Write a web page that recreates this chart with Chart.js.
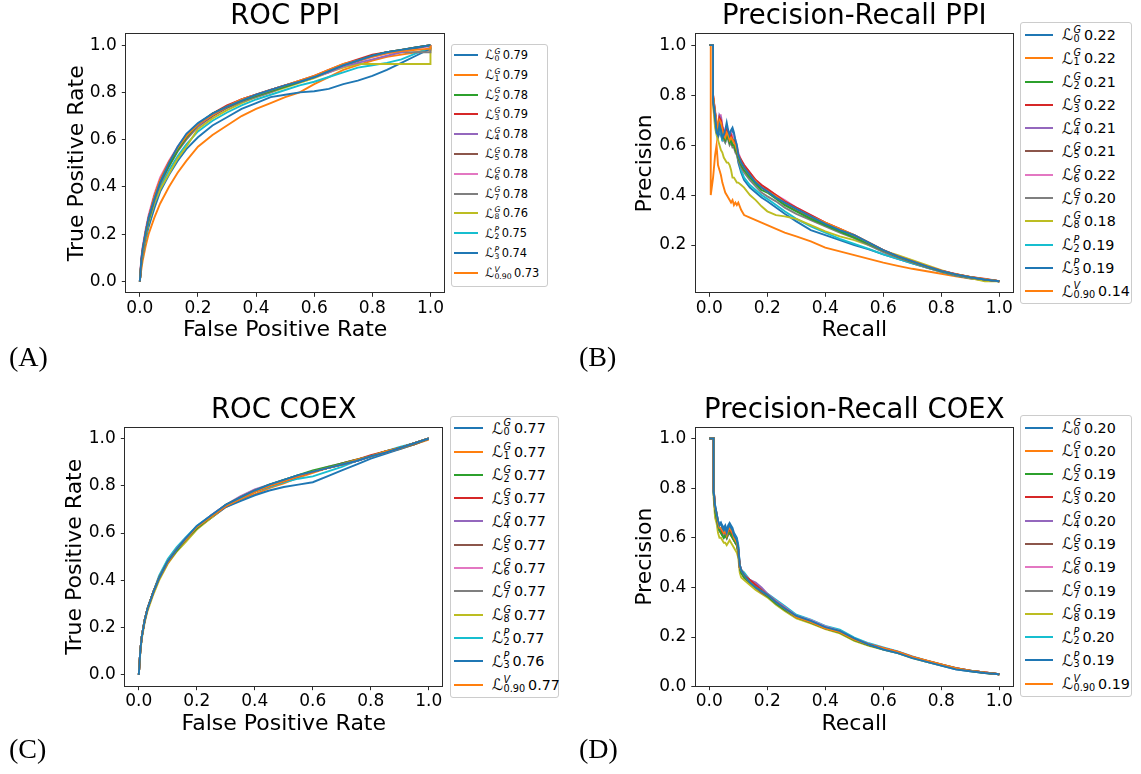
<!DOCTYPE html>
<html><head><meta charset="utf-8">
<script src="https://cdn.jsdelivr.net/npm/chart.js@4.4.1/dist/chart.umd.min.js"></script>
<style>
html,body{margin:0;padding:0;background:#fff;}
body{width:1141px;height:774px;position:relative;overflow:hidden;font-family:"DejaVu Sans",sans-serif;color:#000;}
.panel{position:absolute;}
.legend{position:absolute;border:1px solid #cccccc;border-radius:3px;background:#fff;box-sizing:border-box;}
.row{position:absolute;left:0;right:0;}
.sw{position:absolute;height:2px;}
.txt{position:absolute;top:0;white-space:nowrap;display:flex;align-items:center;height:100%;}
.cal{font-family:"DejaVu Sans",sans-serif;font-size:1.1em;}
.ss{display:inline-flex;flex-direction:column;font-size:0.68em;line-height:0.92;margin:0 0.3em 0 0.05em;}
.ss .sp{font-style:italic;}
.plabel{position:absolute;font-family:"Liberation Serif","Times New Roman",serif;font-size:28px;line-height:28px;white-space:nowrap;}
</style></head>
<body>
<script>
// ---------- legend labels ----------
const seriesSup = ['G','G','G','G','G','G','G','G','G','P','P','V'];
const seriesSub = ['0','1','2','3','4','5','6','7','8','2','3','0.90'];
const seriesColors = ['#1f77b4','#ff7f0e','#2ca02c','#d62728','#9467bd','#8c564b','#e377c2','#7f7f7f','#bcbd22','#17becf','#1f77b4','#ff7f0e'];
const aucRocPpi  = [0.79,0.79,0.78,0.79,0.78,0.78,0.78,0.78,0.76,0.75,0.74,0.73];
const apPrPpi    = [0.22,0.22,0.21,0.22,0.21,0.21,0.22,0.20,0.18,0.19,0.19,0.14];
const aucRocCoex = [0.77,0.77,0.77,0.77,0.77,0.77,0.77,0.77,0.77,0.77,0.76,0.77];
const apPrCoex   = [0.20,0.20,0.19,0.20,0.20,0.19,0.19,0.19,0.19,0.20,0.19,0.19];
const unitTicks = [0,0.2,0.4,0.6,0.8,1.0];
const prPpiYTicks = [0.2,0.4,0.6,0.8,1.0];

// ---------- (A) ROC PPI ----------
const rocPpiFpr = [0,0.005,0.01,0.02,0.03,0.05,0.07,0.1,0.13,0.16,0.2,0.25,0.3,0.35,0.4,0.45,0.5,0.55,0.6,0.65,0.7,0.75,0.8,0.85,0.9,0.95,1.0,1.0];
const rocPpiTpr = [
 [0,0.09,0.14,0.21,0.27,0.35,0.42,0.50,0.57,0.625,0.67,0.71,0.74,0.765,0.79,0.81,0.83,0.845,0.865,0.89,0.915,0.935,0.955,0.97,0.98,0.99,1.0,1.0],
 [0,0.08,0.13,0.21,0.27,0.36,0.43,0.505,0.565,0.615,0.665,0.705,0.74,0.77,0.79,0.81,0.83,0.85,0.87,0.895,0.92,0.935,0.95,0.965,0.975,0.98,0.985,1.0],
 [0,0.08,0.13,0.20,0.26,0.35,0.42,0.49,0.555,0.61,0.665,0.71,0.74,0.765,0.785,0.805,0.825,0.845,0.865,0.89,0.915,0.935,0.955,0.97,0.98,0.99,1.0,1.0],
 [0,0.09,0.14,0.21,0.27,0.36,0.43,0.505,0.565,0.615,0.665,0.71,0.745,0.77,0.79,0.81,0.83,0.85,0.87,0.895,0.92,0.94,0.96,0.97,0.98,0.99,1.0,1.0],
 [0,0.08,0.13,0.20,0.26,0.35,0.42,0.495,0.56,0.61,0.66,0.705,0.74,0.77,0.79,0.81,0.83,0.845,0.865,0.885,0.91,0.925,0.94,0.955,0.97,0.985,1.0,1.0],
 [0,0.08,0.13,0.20,0.26,0.35,0.42,0.49,0.555,0.605,0.66,0.70,0.735,0.765,0.785,0.805,0.825,0.845,0.865,0.89,0.915,0.935,0.955,0.97,0.98,0.99,1.0,1.0],
 [0,0.10,0.15,0.22,0.28,0.37,0.44,0.51,0.57,0.62,0.665,0.705,0.74,0.77,0.79,0.81,0.83,0.845,0.865,0.885,0.91,0.93,0.95,0.965,0.975,0.985,0.995,1.0],
 [0,0.08,0.13,0.20,0.26,0.34,0.41,0.485,0.55,0.60,0.655,0.70,0.735,0.76,0.78,0.80,0.825,0.845,0.865,0.89,0.915,0.935,0.955,0.97,0.97,0.97,0.97,1.0],
 [0,0.07,0.12,0.19,0.25,0.33,0.39,0.455,0.52,0.57,0.645,0.69,0.725,0.755,0.78,0.80,0.82,0.84,0.86,0.885,0.905,0.92,0.92,0.92,0.92,0.92,0.92,1.0],
 [0,0.08,0.12,0.19,0.25,0.33,0.40,0.47,0.53,0.58,0.635,0.68,0.715,0.745,0.77,0.79,0.81,0.83,0.845,0.865,0.885,0.905,0.915,0.925,0.94,0.965,0.99,0.99],
 [0,0.07,0.11,0.18,0.23,0.31,0.38,0.45,0.51,0.56,0.61,0.66,0.695,0.73,0.755,0.78,0.79,0.80,0.805,0.815,0.835,0.85,0.87,0.895,0.925,0.955,0.985,0.99],
 [0,0.05,0.09,0.15,0.20,0.27,0.33,0.40,0.46,0.51,0.57,0.62,0.66,0.70,0.73,0.755,0.78,0.80,0.835,0.865,0.895,0.915,0.935,0.95,0.96,0.97,0.98,1.0]
];

// ---------- (B) Precision-Recall PPI ----------
const prPpiRecall = [0,0.005,0.005,0.013,0.013,0.02,0.025,0.03,0.035,0.04,0.045,0.05,0.055,0.06,0.065,0.07,0.075,0.08,0.085,0.09,0.095,0.1,0.11,0.12,0.14,0.16,0.18,0.2,0.23,0.26,0.3,0.35,0.4,0.45,0.5,0.55,0.6,0.65,0.7,0.75,0.8,0.85,0.9,0.95,1.0];
const prPpiPrecision = [
 [1,1,1,1,0.78,0.72,0.65,0.64,0.68,0.66,0.63,0.64,0.66,0.69,0.66,0.64,0.66,0.67,0.65,0.62,0.60,0.56,0.53,0.51,0.48,0.45,0.43,0.415,0.39,0.37,0.345,0.315,0.285,0.26,0.24,0.21,0.18,0.155,0.135,0.115,0.097,0.083,0.071,0.062,0.055],
 [1,1,1,1,0.80,0.73,0.70,0.67,0.70,0.69,0.66,0.64,0.63,0.65,0.64,0.62,0.63,0.62,0.61,0.60,0.58,0.56,0.53,0.51,0.48,0.455,0.43,0.415,0.395,0.37,0.345,0.315,0.29,0.265,0.24,0.21,0.18,0.155,0.135,0.115,0.098,0.083,0.072,0.064,0.055],
 [1,1,1,1,0.79,0.72,0.67,0.65,0.69,0.68,0.65,0.63,0.62,0.64,0.63,0.61,0.62,0.60,0.60,0.58,0.57,0.55,0.52,0.50,0.47,0.445,0.42,0.41,0.385,0.36,0.335,0.305,0.28,0.255,0.23,0.205,0.178,0.153,0.133,0.113,0.096,0.082,0.071,0.062,0.055],
 [1,1,1,1,0.80,0.73,0.68,0.66,0.71,0.70,0.67,0.65,0.63,0.66,0.65,0.63,0.64,0.62,0.62,0.60,0.59,0.56,0.54,0.52,0.49,0.46,0.44,0.425,0.40,0.375,0.35,0.32,0.29,0.265,0.24,0.21,0.18,0.155,0.135,0.115,0.098,0.084,0.072,0.063,0.055],
 [1,1,1,1,0.79,0.73,0.69,0.66,0.72,0.71,0.67,0.65,0.63,0.65,0.64,0.62,0.63,0.61,0.61,0.59,0.58,0.56,0.53,0.51,0.48,0.455,0.43,0.415,0.39,0.37,0.345,0.315,0.285,0.26,0.235,0.205,0.178,0.153,0.133,0.113,0.097,0.083,0.071,0.062,0.055],
 [1,1,1,1,0.78,0.72,0.67,0.65,0.69,0.68,0.65,0.63,0.62,0.64,0.63,0.61,0.62,0.60,0.60,0.58,0.57,0.55,0.52,0.50,0.48,0.45,0.43,0.415,0.39,0.365,0.34,0.31,0.285,0.26,0.235,0.205,0.178,0.153,0.133,0.113,0.096,0.082,0.071,0.062,0.055],
 [1,1,1,1,0.80,0.74,0.68,0.66,0.72,0.72,0.68,0.66,0.64,0.67,0.66,0.64,0.65,0.63,0.64,0.62,0.60,0.57,0.54,0.52,0.49,0.46,0.44,0.42,0.40,0.38,0.35,0.32,0.29,0.265,0.235,0.205,0.18,0.155,0.135,0.115,0.098,0.085,0.072,0.065,0.055],
 [1,1,1,1,0.77,0.70,0.66,0.64,0.67,0.66,0.63,0.62,0.61,0.63,0.62,0.60,0.61,0.59,0.59,0.57,0.56,0.54,0.51,0.49,0.46,0.435,0.41,0.395,0.375,0.35,0.325,0.30,0.275,0.25,0.228,0.20,0.172,0.15,0.13,0.11,0.094,0.08,0.07,0.062,0.055],
 [1,1,1,1,0.76,0.67,0.64,0.62,0.60,0.58,0.57,0.55,0.54,0.53,0.53,0.52,0.50,0.47,0.47,0.46,0.45,0.45,0.44,0.43,0.40,0.38,0.355,0.335,0.32,0.315,0.305,0.28,0.255,0.235,0.22,0.20,0.178,0.16,0.14,0.12,0.10,0.082,0.068,0.055,0.055],
 [1,1,1,1,0.78,0.71,0.66,0.64,0.66,0.65,0.62,0.62,0.61,0.63,0.63,0.61,0.64,0.64,0.63,0.61,0.58,0.55,0.50,0.47,0.44,0.42,0.40,0.385,0.36,0.335,0.305,0.275,0.25,0.225,0.205,0.185,0.163,0.145,0.127,0.11,0.094,0.08,0.07,0.062,0.055],
 [1,1,1,1,0.79,0.72,0.65,0.63,0.65,0.64,0.62,0.63,0.64,0.67,0.65,0.63,0.65,0.66,0.64,0.60,0.57,0.53,0.49,0.46,0.43,0.41,0.39,0.375,0.35,0.325,0.295,0.26,0.24,0.22,0.20,0.183,0.163,0.145,0.127,0.11,0.093,0.078,0.067,0.06,0.055],
 [1,1,0.40,0.47,0.47,0.56,0.60,0.52,0.50,0.48,0.45,0.43,0.41,0.40,0.39,0.38,0.37,0.38,0.36,0.37,0.36,0.37,0.34,0.32,0.31,0.30,0.29,0.28,0.265,0.25,0.235,0.215,0.19,0.175,0.16,0.145,0.13,0.117,0.105,0.095,0.085,0.075,0.066,0.06,0.055]
];

// ---------- (C) ROC COEX ----------
const rocCoexFpr = [0,0.005,0.01,0.02,0.03,0.05,0.07,0.1,0.13,0.16,0.2,0.25,0.3,0.35,0.4,0.45,0.5,0.55,0.6,0.65,0.7,0.75,0.8,0.85,0.9,0.95,1.0];
const rocCoexTpr = [
 [0,0.10,0.16,0.23,0.28,0.35,0.41,0.48,0.53,0.575,0.63,0.675,0.72,0.75,0.78,0.805,0.825,0.845,0.86,0.875,0.89,0.905,0.925,0.94,0.96,0.98,1.0],
 [0,0.10,0.16,0.23,0.28,0.35,0.41,0.475,0.53,0.57,0.625,0.67,0.715,0.745,0.775,0.80,0.82,0.84,0.86,0.875,0.89,0.91,0.925,0.945,0.96,0.98,1.0],
 [0,0.10,0.16,0.23,0.28,0.35,0.41,0.48,0.525,0.57,0.62,0.67,0.72,0.75,0.78,0.805,0.825,0.845,0.865,0.88,0.895,0.91,0.925,0.945,0.96,0.98,1.0],
 [0,0.10,0.16,0.23,0.28,0.35,0.41,0.48,0.53,0.57,0.625,0.67,0.715,0.75,0.78,0.80,0.82,0.84,0.86,0.875,0.895,0.91,0.93,0.945,0.96,0.98,1.0],
 [0,0.10,0.16,0.23,0.28,0.35,0.41,0.48,0.53,0.575,0.625,0.675,0.72,0.755,0.785,0.805,0.825,0.845,0.86,0.875,0.89,0.905,0.925,0.945,0.96,0.98,1.0],
 [0,0.10,0.16,0.23,0.28,0.35,0.41,0.475,0.525,0.57,0.62,0.67,0.715,0.745,0.775,0.80,0.82,0.84,0.86,0.875,0.89,0.905,0.925,0.94,0.96,0.975,1.0],
 [0,0.10,0.16,0.23,0.28,0.35,0.41,0.48,0.53,0.575,0.625,0.675,0.72,0.75,0.78,0.80,0.82,0.84,0.86,0.88,0.895,0.91,0.925,0.94,0.96,0.98,1.0],
 [0,0.10,0.16,0.23,0.28,0.35,0.41,0.48,0.53,0.57,0.62,0.67,0.715,0.745,0.775,0.80,0.82,0.84,0.86,0.875,0.89,0.905,0.925,0.945,0.96,0.98,1.0],
 [0,0.09,0.15,0.22,0.27,0.34,0.40,0.47,0.52,0.56,0.615,0.665,0.715,0.745,0.775,0.80,0.82,0.84,0.86,0.875,0.89,0.905,0.925,0.94,0.96,0.975,1.0],
 [0,0.10,0.16,0.23,0.28,0.35,0.42,0.49,0.54,0.58,0.63,0.675,0.715,0.745,0.775,0.795,0.815,0.83,0.84,0.86,0.88,0.905,0.925,0.945,0.965,0.98,1.0],
 [0,0.10,0.16,0.23,0.28,0.35,0.41,0.48,0.53,0.57,0.62,0.665,0.71,0.735,0.76,0.78,0.795,0.805,0.815,0.84,0.865,0.89,0.915,0.935,0.955,0.975,1.0],
 [0,0.10,0.16,0.23,0.28,0.35,0.41,0.475,0.525,0.57,0.625,0.665,0.71,0.74,0.765,0.79,0.81,0.835,0.855,0.875,0.89,0.91,0.925,0.94,0.955,0.975,0.995]
];

// ---------- (D) Precision-Recall COEX ----------
const prCoexRecall = [0,0.015,0.015,0.02,0.025,0.03,0.035,0.04,0.045,0.05,0.055,0.06,0.065,0.07,0.075,0.08,0.085,0.09,0.095,0.1,0.105,0.11,0.12,0.14,0.16,0.18,0.2,0.23,0.26,0.3,0.35,0.4,0.45,0.5,0.55,0.6,0.65,0.7,0.75,0.8,0.85,0.9,0.95,1.0];
const prCoexPrecision = [
 [1,1,0.79,0.73,0.70,0.67,0.65,0.66,0.64,0.63,0.64,0.62,0.64,0.65,0.64,0.63,0.61,0.60,0.59,0.56,0.49,0.47,0.45,0.42,0.40,0.385,0.37,0.34,0.315,0.285,0.265,0.24,0.225,0.195,0.17,0.15,0.135,0.115,0.10,0.085,0.07,0.062,0.055,0.05],
 [1,1,0.80,0.72,0.70,0.66,0.64,0.64,0.63,0.62,0.63,0.61,0.63,0.64,0.63,0.62,0.60,0.59,0.58,0.55,0.48,0.47,0.45,0.42,0.40,0.385,0.37,0.34,0.315,0.28,0.26,0.235,0.22,0.19,0.17,0.155,0.14,0.12,0.105,0.09,0.075,0.065,0.057,0.05],
 [1,1,0.78,0.71,0.68,0.65,0.63,0.62,0.61,0.60,0.61,0.60,0.62,0.62,0.61,0.60,0.59,0.58,0.57,0.54,0.48,0.46,0.44,0.42,0.40,0.385,0.365,0.335,0.31,0.28,0.258,0.235,0.218,0.188,0.168,0.152,0.138,0.118,0.103,0.088,0.074,0.064,0.056,0.05],
 [1,1,0.80,0.72,0.69,0.66,0.64,0.64,0.62,0.62,0.62,0.61,0.63,0.63,0.62,0.61,0.60,0.59,0.58,0.55,0.49,0.47,0.45,0.43,0.41,0.39,0.37,0.34,0.315,0.283,0.262,0.238,0.222,0.192,0.17,0.155,0.14,0.12,0.104,0.089,0.075,0.065,0.057,0.05],
 [1,1,0.79,0.72,0.69,0.65,0.63,0.63,0.62,0.61,0.62,0.60,0.62,0.63,0.62,0.61,0.60,0.58,0.58,0.55,0.48,0.47,0.45,0.43,0.42,0.40,0.375,0.345,0.32,0.285,0.265,0.24,0.223,0.193,0.171,0.155,0.14,0.12,0.104,0.089,0.075,0.065,0.057,0.05],
 [1,1,0.78,0.71,0.68,0.65,0.63,0.62,0.61,0.61,0.61,0.60,0.62,0.62,0.61,0.60,0.59,0.58,0.57,0.54,0.48,0.46,0.44,0.42,0.40,0.38,0.365,0.335,0.31,0.28,0.26,0.235,0.22,0.19,0.168,0.153,0.138,0.118,0.103,0.088,0.074,0.064,0.056,0.05],
 [1,1,0.79,0.72,0.69,0.66,0.64,0.63,0.62,0.62,0.62,0.61,0.63,0.63,0.62,0.61,0.60,0.59,0.58,0.55,0.49,0.47,0.45,0.43,0.41,0.39,0.37,0.345,0.32,0.285,0.268,0.243,0.225,0.193,0.171,0.155,0.14,0.12,0.104,0.089,0.075,0.065,0.057,0.05],
 [1,1,0.78,0.71,0.68,0.65,0.63,0.62,0.61,0.60,0.61,0.60,0.61,0.62,0.61,0.60,0.59,0.58,0.57,0.54,0.48,0.46,0.44,0.42,0.41,0.39,0.37,0.34,0.315,0.283,0.262,0.238,0.222,0.19,0.168,0.153,0.138,0.118,0.103,0.088,0.074,0.064,0.056,0.05],
 [1,1,0.76,0.68,0.66,0.62,0.60,0.60,0.59,0.58,0.58,0.57,0.58,0.59,0.58,0.57,0.56,0.55,0.54,0.52,0.46,0.44,0.43,0.41,0.39,0.375,0.36,0.33,0.305,0.275,0.255,0.232,0.215,0.185,0.165,0.15,0.135,0.115,0.10,0.086,0.072,0.063,0.055,0.05],
 [1,1,0.79,0.72,0.69,0.66,0.64,0.64,0.63,0.62,0.63,0.61,0.63,0.64,0.63,0.62,0.61,0.60,0.59,0.56,0.49,0.47,0.46,0.43,0.41,0.395,0.375,0.35,0.325,0.29,0.27,0.245,0.23,0.198,0.175,0.158,0.142,0.122,0.105,0.09,0.076,0.065,0.057,0.05],
 [1,1,0.79,0.73,0.70,0.67,0.65,0.66,0.65,0.64,0.65,0.63,0.65,0.66,0.65,0.64,0.62,0.61,0.60,0.57,0.49,0.47,0.45,0.42,0.40,0.385,0.37,0.34,0.315,0.285,0.265,0.24,0.225,0.195,0.168,0.15,0.135,0.117,0.10,0.085,0.07,0.062,0.055,0.05],
 [1,1,0.80,0.72,0.70,0.66,0.64,0.64,0.63,0.62,0.63,0.61,0.63,0.64,0.63,0.62,0.60,0.59,0.58,0.55,0.48,0.47,0.45,0.42,0.40,0.385,0.37,0.34,0.315,0.28,0.26,0.235,0.22,0.19,0.17,0.155,0.14,0.12,0.105,0.09,0.075,0.065,0.057,0.05]
];

// ---------- drawing ----------
const FONT = 'DejaVu Sans';
Chart.defaults.font.family = FONT;
Chart.defaults.color = '#000';
const FRAME = '#2b2b2b';
const TICK_FONT = 17, LABEL_FONT = 22, TITLE_FONT = 27.5;

const framePlugin = {
  id: 'frame',
  afterDatasetsDraw(chart) {
    const a = chart.chartArea, ctx = chart.ctx;
    ctx.save();
    ctx.strokeStyle = FRAME; ctx.lineWidth = 1;
    ctx.strokeRect(Math.round(a.left) + 0.5, Math.round(a.top) + 0.5, Math.round(a.right) - Math.round(a.left) - 1, Math.round(a.bottom) - Math.round(a.top) - 1);
    ctx.restore();
  }
};

function makePanel(p) {
  const holder = document.createElement('div');
  holder.className = 'panel';
  holder.style.left = p.left + 'px'; holder.style.top = p.top + 'px';
  const cv = document.createElement('canvas');
  cv.width = p.w; cv.height = p.h;
  cv.style.width = p.w + 'px'; cv.style.height = p.h + 'px';
  holder.appendChild(cv); document.body.appendChild(holder);
  const datasets = p.ys.map((ys, i) => ({
    data: p.xs.map((x, j) => ({x: x, y: ys[j]})),
    borderColor: seriesColors[i], borderWidth: 1.9, pointRadius: 0, fill: false, tension: 0
  }));
  const titlePadTop = p.titleMid - TITLE_FONT / 2;
  new Chart(cv, {
    type: 'line',
    data: {datasets},
    options: {
      responsive: false, animation: false, devicePixelRatio: 1,
      layout: {padding: {left: 0, right: p.w - p.chartRight, top: 0, bottom: 0}},
      plugins: {
        legend: {display: false}, tooltip: {enabled: false},
        title: {display: true, text: p.title, fullSize: false, color: '#000',
          font: {family: FONT, size: TITLE_FONT, weight: 'normal', lineHeight: 1},
          padding: {top: titlePadTop, bottom: p.chartTop - TITLE_FONT - titlePadTop}}
      },
      scales: {
        x: {type: 'linear', min: -0.05, max: 1.05,
          afterBuildTicks: s => { s.ticks = unitTicks.map(v => ({value: v})); },
          afterFit: s => { s.height = p.h - p.chartBottom; },
          grid: {drawOnChartArea: false, drawTicks: true, tickLength: 3.5, tickColor: FRAME, lineWidth: 1},
          border: {display: false},
          ticks: {padding: 3, autoSkip: false, maxRotation: 0, color: '#000',
            font: {family: FONT, size: TICK_FONT, lineHeight: 1}, callback: v => Number(v).toFixed(1)},
          title: {display: true, text: p.xTitle, color: '#000',
            font: {family: FONT, size: LABEL_FONT, lineHeight: 1},
            padding: {top: 0, bottom: p.h - p.xTitleMid - LABEL_FONT / 2}}
        },
        y: {type: 'linear', min: p.yMin, max: p.yMax,
          afterBuildTicks: s => { s.ticks = p.yTicks.map(v => ({value: v})); },
          afterFit: s => { s.width = p.chartLeft; },
          grid: {drawOnChartArea: false, drawTicks: true, tickLength: 3.5, tickColor: FRAME, lineWidth: 1},
          border: {display: false},
          ticks: {padding: 5, autoSkip: false, color: '#000',
            font: {family: FONT, size: TICK_FONT, lineHeight: 1}, callback: v => Number(v).toFixed(1)},
          title: {display: true, text: p.yTitle, color: '#000',
            font: {family: FONT, size: LABEL_FONT, lineHeight: 1},
            padding: {top: p.yTitleMid - LABEL_FONT / 2, bottom: 0}}
        }
      }
    },
    plugins: [framePlugin]
  });
}

function makeLegend(L, values) {
  const box = document.createElement('div');
  box.className = 'legend';
  box.style.left = L.left + 'px'; box.style.top = L.top + 'px';
  box.style.width = L.width + 'px'; box.style.height = L.height + 'px';
  box.style.fontSize = L.font + 'px';
  document.body.appendChild(box);
  values.forEach((v, i) => {
    const cy = L.rowY0 + i * L.pitch - L.top - 1;
    const row = document.createElement('div');
    row.className = 'row';
    row.style.top = (cy - L.pitch / 2) + 'px'; row.style.height = L.pitch + 'px';
    const sw = document.createElement('div');
    sw.className = 'sw';
    sw.style.left = (L.lineX0 - L.left - 1) + 'px'; sw.style.width = (L.lineX1 - L.lineX0) + 'px';
    sw.style.top = (L.pitch / 2 - 1) + 'px'; sw.style.background = seriesColors[i];
    const tx = document.createElement('div');
    tx.className = 'txt';
    tx.style.left = (L.textX - L.left - 1) + 'px';
    tx.innerHTML = '<span class="cal">\u2112</span><span class="ss"><span class="sp">' + seriesSup[i] +
      '</span><span class="sb">' + seriesSub[i] + '</span></span><span>' + v.toFixed(2) + '</span>';
    row.appendChild(sw); row.appendChild(tx); box.appendChild(row);
  });
}

function panelLabel(text, left, top) {
  const d = document.createElement('div');
  d.className = 'plabel'; d.textContent = text;
  d.style.left = left + 'px'; d.style.top = top + 'px';
  document.body.appendChild(d);
}

makePanel({left: 0, top: 0, w: 450, h: 345, chartLeft: 125.3, chartRight: 445, chartTop: 33.3, chartBottom: 293.3,
  title: 'ROC PPI', titleMid: 17.2, xTitle: 'False Positive Rate', xTitleMid: 330.7, yTitle: 'True Positive Rate', yTitleMid: 77.4,
  yMin: -0.05, yMax: 1.05, yTicks: unitTicks, xs: rocPpiFpr, ys: rocPpiTpr});
makePanel({left: 560, top: 0, w: 460, h: 345, chartLeft: 134.8, chartRight: 453.8, chartTop: 33.3, chartBottom: 293.3,
  title: 'Precision-Recall PPI', titleMid: 17.2, xTitle: 'Recall', xTitleMid: 330.7, yTitle: 'Precision', yTitleMid: 85.7,
  yMin: 0.007, yMax: 1.0473, yTicks: prPpiYTicks, xs: prPpiRecall, ys: prPpiPrecision});
makePanel({left: 0, top: 390, w: 450, h: 384, chartLeft: 124.3, chartRight: 443.3, chartTop: 36.7, chartBottom: 296.7,
  title: 'ROC COEX', titleMid: 20.5, xTitle: 'False Positive Rate', xTitleMid: 334.1, yTitle: 'True Positive Rate', yTitleMid: 75.1,
  yMin: -0.05, yMax: 1.05, yTicks: unitTicks, xs: rocCoexFpr, ys: rocCoexTpr});
makePanel({left: 560, top: 390, w: 460, h: 384, chartLeft: 134.8, chartRight: 453.8, chartTop: 36.7, chartBottom: 296.7,
  title: 'Precision-Recall COEX', titleMid: 20.5, xTitle: 'Recall', xTitleMid: 334.1, yTitle: 'Precision', yTitleMid: 85.1,
  yMin: 0, yMax: 1.0475, yTicks: unitTicks, xs: prCoexRecall, ys: prCoexPrecision});

makeLegend({left: 451, top: 44, width: 97, height: 243, rowY0: 55, pitch: 19.8, lineX0: 454, lineX1: 478, textX: 485, font: 11.4}, aucRocPpi);
makeLegend({left: 1020, top: 22, width: 112, height: 282, rowY0: 35, pitch: 23.3, lineX0: 1025, lineX1: 1053, textX: 1061.7, font: 14.3}, apPrPpi);
makeLegend({left: 450, top: 416, width: 109, height: 282, rowY0: 428.3, pitch: 23.3, lineX0: 454, lineX1: 482.7, textX: 491.7, font: 14.3}, aucRocCoex);
makeLegend({left: 1020, top: 415, width: 112, height: 282, rowY0: 427.5, pitch: 23.3, lineX0: 1025, lineX1: 1053, textX: 1061.7, font: 14.3}, apPrCoex);

panelLabel('(A)', 9, 343);
panelLabel('(B)', 579, 343);
panelLabel('(C)', 9, 735);
panelLabel('(D)', 579, 735);
</script>
</body></html>
